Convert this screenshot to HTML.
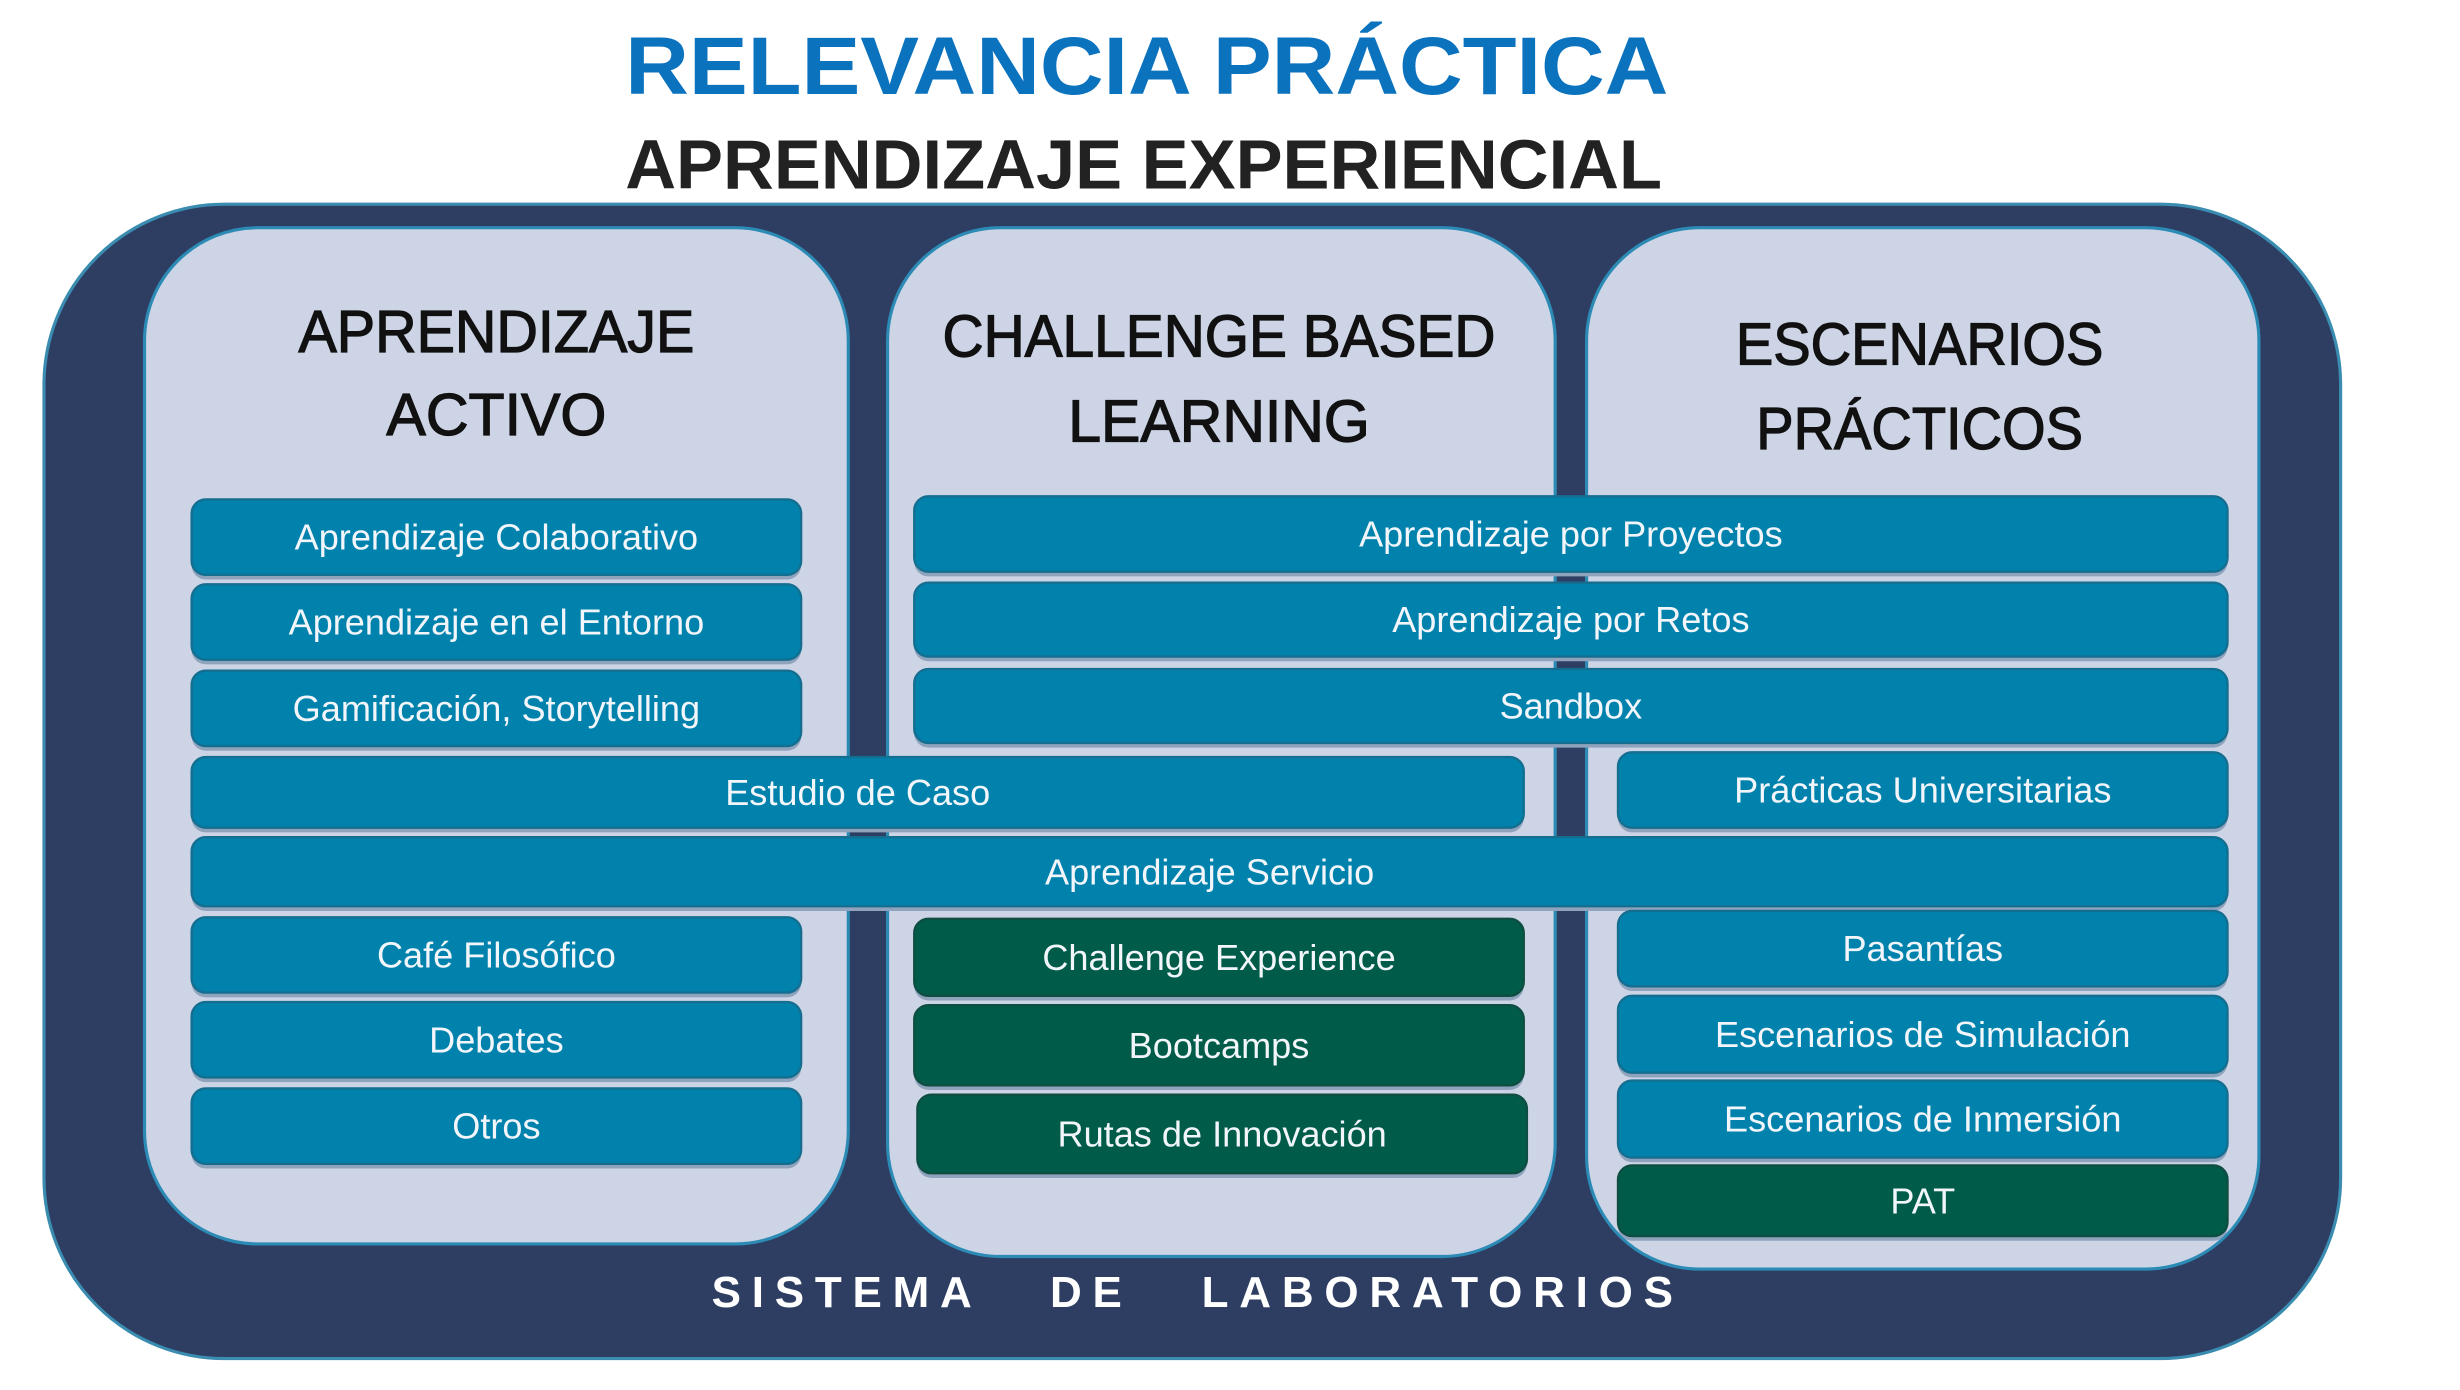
<!DOCTYPE html>
<html><head><meta charset="utf-8"><style>
html,body{margin:0;padding:0;background:#fff;width:2460px;height:1390px;overflow:hidden}
svg{display:block}
text{font-family:"Liberation Sans",sans-serif}
</style></head><body>
<svg width="2460" height="1390" viewBox="0 0 1566 885" preserveAspectRatio="none">
<text x="730" y="60" text-anchor="middle" font-size="52" font-weight="bold" fill="#0B72BE" textLength="664" lengthAdjust="spacingAndGlyphs">RELEVANCIA PRÁCTICA</text>
<text x="728" y="120" text-anchor="middle" font-size="44" font-weight="bold" fill="#222" textLength="660" lengthAdjust="spacingAndGlyphs">APRENDIZAJE EXPERIENCIAL</text>
<rect x="28" y="130" width="1462" height="735" rx="115" fill="#2E3E63" stroke="#3A8DB0" stroke-width="2"/>
<rect x="92" y="145" width="448" height="647" rx="72" fill="#CDD4E6" stroke="#2C8BB5" stroke-width="2"/>
<rect x="565" y="145" width="425" height="655" rx="72" fill="#CDD4E6" stroke="#2C8BB5" stroke-width="2"/>
<rect x="1010" y="145" width="428" height="663" rx="72" fill="#CDD4E6" stroke="#2C8BB5" stroke-width="2"/>
<g font-size="38" fill="#111" text-anchor="middle" stroke="#111" stroke-width="0.8">
<text x="316" y="224" textLength="252" lengthAdjust="spacingAndGlyphs">APRENDIZAJE</text>
<text x="316" y="277" textLength="140" lengthAdjust="spacingAndGlyphs">ACTIVO</text>
<text x="776" y="227" textLength="352" lengthAdjust="spacingAndGlyphs">CHALLENGE BASED</text>
<text x="776" y="281" textLength="192" lengthAdjust="spacingAndGlyphs">LEARNING</text>
<text x="1222" y="232" textLength="234" lengthAdjust="spacingAndGlyphs">ESCENARIOS</text>
<text x="1222" y="286" textLength="208" lengthAdjust="spacingAndGlyphs">PRÁCTICOS</text>
</g>
<g id="bars"></g>
<text x="759" y="832" text-anchor="middle" font-size="28" font-weight="bold" fill="#fff" textLength="612" lengthAdjust="spacing" style="white-space:pre">SISTEMA   DE   LABORATORIOS</text>
</svg>
<script>
const labels=["Aprendizaje Colaborativo","Aprendizaje en el Entorno","Gamificación, Storytelling","Estudio de Caso","Aprendizaje Servicio","Café Filosófico","Debates","Otros","Aprendizaje por Proyectos","Aprendizaje por Retos","Sandbox","Prácticas Universitarias","Pasantías","Escenarios de Simulación","Escenarios de Inmersión","PAT","Challenge Experience","Bootcamps","Rutas de Innovación"];
const boxes=[[122,318,388,48,0],[122,372,388,48,0],[122,427,388,48,0],[122,482,848,45,0],[122,533,1296,44,0],[122,584,388,48,0],[122,638,388,48,0],[122,693,388,48,0],[582,316,836,48,0],[582,371,836,47,0],[582,426,836,47,0],[1030,479,388,48,0],[1030,580,388,48,0],[1030,634,388,49,0],[1030,688,388,49,0],[1030,742,388,45,1],[582,585,388,49,1],[582,640,388,51,1],[584,697,388,50,1]];
const g=document.getElementById('bars');
const NS="http://www.w3.org/2000/svg";
boxes.forEach((b,i)=>{
 const sh=document.createElementNS(NS,'rect');
 sh.setAttribute('x',b[0]);sh.setAttribute('y',b[1]+3);sh.setAttribute('width',b[2]);sh.setAttribute('height',b[3]);sh.setAttribute('rx',9);
 sh.setAttribute('fill','#8FA3BD');
 
 
 g.appendChild(sh);
 const r=document.createElementNS(NS,'rect');
 r.setAttribute('x',b[0]);r.setAttribute('y',b[1]);r.setAttribute('width',b[2]);r.setAttribute('height',b[3]);r.setAttribute('rx',9);
 r.setAttribute('fill',b[4]?'#005C49':'#0082AD');
 r.setAttribute('stroke',b[4]?'#0E4E42':'#146E90');r.setAttribute('stroke-width','1.5');
 
 
 g.appendChild(r);
 const t=document.createElementNS(NS,'text');
 t.setAttribute('x',b[0]+b[2]/2);t.setAttribute('y',b[1]+b[3]/2+8);
 t.setAttribute('text-anchor','middle');t.setAttribute('font-size','23');t.setAttribute('fill','#F2F6FA');
 t.textContent=labels[i];
 
 
 g.appendChild(t);
});
</script>
</body></html>
